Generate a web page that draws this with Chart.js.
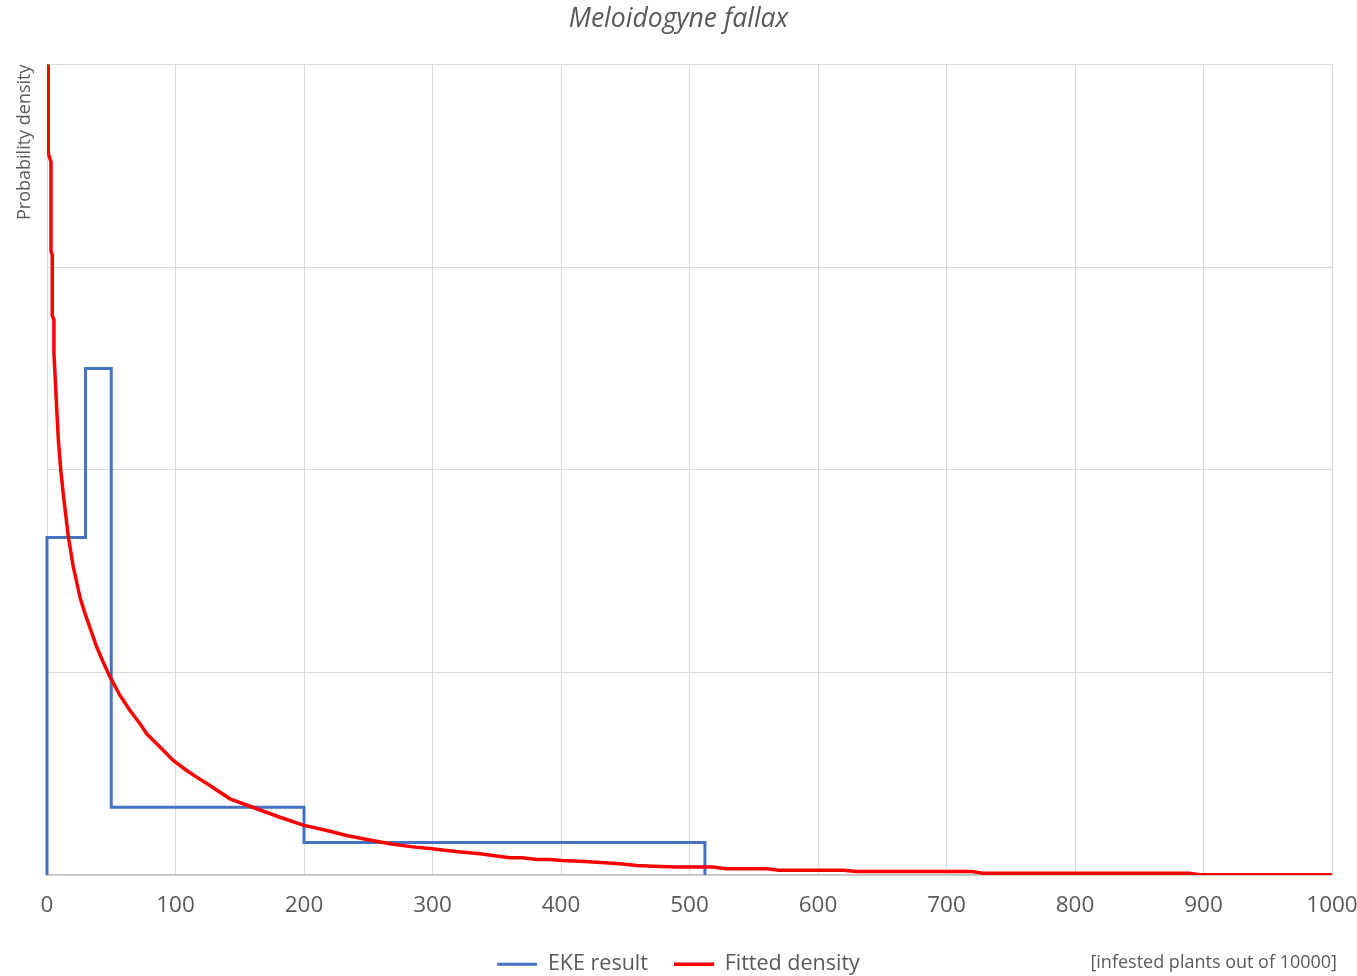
<!DOCTYPE html>
<html>
<head>
<meta charset="utf-8">
<title>Meloidogyne fallax</title>
<script src="https://cdn.jsdelivr.net/npm/chart.js@4/dist/chart.umd.min.js"></script>
<style>
  html, body { margin: 0; padding: 0; background: #ffffff; }
  #wrap { width: 1357px; height: 976px; }
</style>
</head>
<body>
<div id="wrap"><canvas id="chart" width="1357" height="976"></canvas></div>
<script>
// Expert knowledge elicitation result: equal-probability bins drawn as a step outline
const ekeX = [0, 0, 30, 30, 50, 50, 200, 200, 512, 512];
const ekeY = [0, 0.00833, 0.00833, 0.0125, 0.0125, 0.00167, 0.00167, 0.0008, 0.0008, 0];

// Fitted probability density
const fitX = [1, 1, 3.1, 3.1, 4.1, 4.1, 5.4, 5.4, 6.2, 7.5, 8.8, 10.7, 13.2, 16.6, 20.5, 25.7,
  29.6, 33.5, 38.7, 43.5, 48.5, 56.8, 64.6, 72.4, 77.6, 85.4, 98.3, 108.7, 116.5, 126.8, 142.4,
  163.2, 181.3, 199.5, 220.2, 233.2, 250, 266.9, 283, 299.6, 318,
  337, 360, 370, 381, 391, 401, 415, 428, 446, 459, 472, 490, 518, 529, 560, 570, 620, 630,
  720, 728, 889, 897, 1000];
const fitY = [0.025, 0.0178, 0.0176, 0.0154, 0.0153, 0.0138, 0.0137, 0.01288, 0.01238, 0.01155,
  0.01075, 0.0100, 0.00925, 0.00835, 0.0076, 0.00685,
  0.00645, 0.0061, 0.005625, 0.00527, 0.004925, 0.00443, 0.00406, 0.003735, 0.003485, 0.00324,
  0.002825, 0.00258, 0.002415, 0.00221, 0.00188,
  0.001635, 0.001425, 0.00123, 0.00108, 0.000975, 0.00087, 0.00077, 0.0007, 0.000645, 0.00058,
  0.000525, 0.000425, 0.000425, 0.000385, 0.000385, 0.00036, 0.00034, 0.000315, 0.000275,
  0.000235, 0.000215, 0.000195, 0.000195, 0.000155, 0.000155, 0.00012, 0.00012, 0.000085,
  0.000085, 0.000045, 0.000045, 0.000005, 0.000005];

// Axis settings and texts
const xMin = 0, xMax = 1000, xStep = 100;
const yMin = 0, yMax = 0.02, yStep = 0.005;
const chartTitle = 'Meloidogyne fallax';
const yTitle = 'Probability density';
const xTitle = '[infested plants out of 10000]';
const seriesNames = ['EKE result', 'Fitted density'];

const FONT = "'Open Sans', 'Liberation Sans', sans-serif";
const TEXT = '#595959';
const GRID = '#d9d9d9';

const toPoints = (xs, ys) => xs.map((x, i) => ({ x: x, y: ys[i] }));

// Unit caption drawn at the bottom right, level with the legend
const unitCaption = {
  id: 'unitCaption',
  afterDraw(chart) {
    const ctx = chart.ctx;
    ctx.save();
    ctx.font = "18px " + FONT;
    ctx.fillStyle = TEXT;
    ctx.textAlign = 'right';
    ctx.textBaseline = 'middle';
    ctx.fillText(xTitle, chart.width - 20, chart.height - 13);
    ctx.restore();
  }
};

new Chart(document.getElementById('chart'), {
  type: 'line',
  data: {
    datasets: [
      {
        label: seriesNames[0],
        data: toPoints(ekeX, ekeY),
        borderColor: '#4472C4',
        backgroundColor: '#4472C4',
        borderWidth: 3,
        pointRadius: 0,
        tension: 0,
        fill: false,
        clip: 4,
        order: 2
      },
      {
        label: seriesNames[1],
        data: toPoints(fitX, fitY),
        borderColor: '#FF0000',
        backgroundColor: '#FF0000',
        borderWidth: 3.5,
        pointRadius: 0,
        tension: 0,
        fill: false,
        order: 1
      }
    ]
  },
  options: {
    responsive: false,
    animation: false,
    layout: { padding: { left: 0, right: 0, top: 0, bottom: -9 } },
    plugins: {
      title: {
        display: true,
        text: chartTitle,
        color: TEXT,
        font: { family: FONT, size: 26.5, style: 'italic', weight: 'normal' },
        padding: { top: 4, bottom: 28.7 }
      },
      legend: {
        display: true,
        position: 'bottom',
        labels: {
          color: TEXT,
          font: { family: FONT, size: 21.5 },
          usePointStyle: true,
          pointStyle: 'line',
          pointStyleWidth: 40,
          padding: 26,
          sort: (a, b) => a.datasetIndex - b.datasetIndex
        }
      },
      tooltip: { enabled: false }
    },
    scales: {
      x: {
        type: 'linear',
        min: xMin,
        max: xMax,
        afterFit: (scale) => { scale.height = 52.5; scale.paddingRight = 25; },
        ticks: {
          stepSize: xStep,
          color: TEXT,
          font: { family: FONT, size: 22.5 },
          padding: 17,
          maxRotation: 0,
          callback: (v) => String(v)
        },
        grid: { color: GRID, lineWidth: 1, drawTicks: false },
        border: { color: '#c4c4c4', width: 1.5 }
      },
      y: {
        type: 'linear',
        min: yMin,
        max: yMax,
        afterFit: (scale) => { scale.width = 47; },
        ticks: { stepSize: yStep, display: false },
        grid: { color: GRID, lineWidth: 1, drawTicks: false },
        border: { display: false },
        title: {
          display: true,
          text: yTitle,
          color: TEXT,
          align: 'end',
          font: { family: FONT, size: 18 },
          padding: { top: 14, bottom: 0 }
        }
      }
    }
  },
  plugins: [unitCaption]
});
</script>
</body>
</html>
